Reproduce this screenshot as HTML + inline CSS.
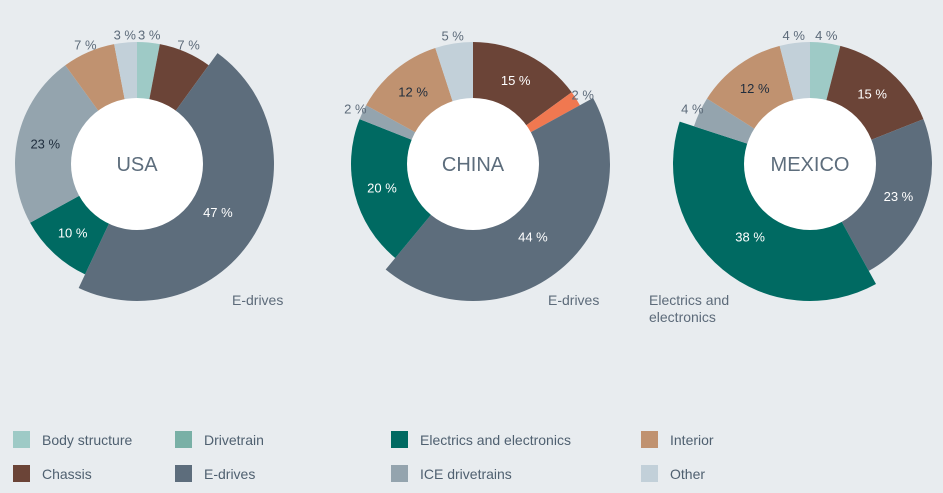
<!DOCTYPE html>
<html><head><meta charset="utf-8"><style>
html,body{margin:0;padding:0;background:#e8ecef;width:943px;height:493px;overflow:hidden;font-family:"Liberation Sans",sans-serif}
.leg{position:absolute;display:flex;align-items:center;font-size:14px;color:#4f6070}
.sw{width:17px;height:17px;margin-right:12px}
</style></head><body>
<svg id="chart" width="943" height="420" style="position:absolute;left:0;top:0"></svg>
<div id="legend"></div>
<script>
const categories=["Body structure","Chassis","Drivetrain","E-drives","Electrics and electronics","ICE drivetrains","Interior","Other"];
const colors={"Body structure":"#9ecac6","Chassis":"#6b4437","Drivetrain":"#f07850","E-drives":"#5d6d7c","Electrics and electronics":"#006a62","ICE drivetrains":"#94a4ae","Interior":"#c09270","Other":"#c2d0d9"};
const countries=["USA","CHINA","MEXICO"];
const usaValues=[3,7,0,47,10,23,7,3];
const chinaValues=[0,15,2,44,20,2,12,5];
const mexicoValues=[4,15,0,23,38,4,12,4];
const explodedSlice=["E-drives","E-drives","Electrics and electronics"];
const calloutLabels=["E-drives","E-drives","Electrics and\nelectronics"];
const seriesValues=[usaValues,chinaValues,mexicoValues];
const centers=[[137,164],[473,164],[810,164]];
const rIn=66,rOut=122,rExp=137;
const svg=document.getElementById('chart');
const NS="http://www.w3.org/2000/svg";
function pt(cx,cy,r,f){const a=f*2*Math.PI;return [cx+r*Math.sin(a),cy-r*Math.cos(a)];}
function arc(cx,cy,r0,r1,f0,f1){
  const [x0,y0]=pt(cx,cy,r1,f0),[x1,y1]=pt(cx,cy,r1,f1),[x2,y2]=pt(cx,cy,r0,f1),[x3,y3]=pt(cx,cy,r0,f0);
  const lg=(f1-f0)>0.5?1:0;
  return `M${x0},${y0}A${r1},${r1} 0 ${lg} 1 ${x1},${y1}L${x2},${y2}A${r0},${r0} 0 ${lg} 0 ${x3},${y3}Z`;
}
countries.forEach((c,ci)=>{
  const [cx,cy]=centers[ci];const vals=seriesValues[ci];
  const total=vals.reduce((a,b)=>a+b,0);
  let acc=0;
  const g=document.createElementNS(NS,'g');
  
  
  svg.appendChild(g);
  vals.forEach((v,i)=>{
    if(!v)return;
    const f0=acc/total,f1=(acc+v)/total;acc+=v;
    const cat=categories[i];
    const ro=cat===explodedSlice[ci]?rExp:rOut;
    const p=document.createElementNS(NS,'path');
    p.setAttribute('d',arc(cx,cy,0,ro,f0,f1));
    p.setAttribute('fill',colors[cat]);
    
    
    g.appendChild(p);
    const fm=(f0+f1)/2;const inside=v>=10;
    const [lx,ly]=pt(cx,cy,inside?94:130,fm);
    const t=document.createElementNS(NS,'text');
    t.setAttribute('x',lx);t.setAttribute('y',ly+5);
    t.setAttribute('text-anchor','middle');t.setAttribute('font-size','13');
    const light=(cat==="ICE drivetrains"||cat==="Interior");
    t.setAttribute('fill',inside?(light?'#1f2d3d':'#ffffff'):'#5d6b7a');
    
    
    t.textContent=v+' %';
    g.appendChild(t);
  });
  const ci2=document.createElementNS(NS,'circle');
  ci2.setAttribute('cx',cx);ci2.setAttribute('cy',cy);ci2.setAttribute('r',rIn);ci2.setAttribute('fill','#ffffff');
  
  
  g.appendChild(ci2);
  const ct=document.createElementNS(NS,'text');
  ct.setAttribute('x',cx);ct.setAttribute('y',cy+7);ct.setAttribute('text-anchor','middle');
  ct.setAttribute('font-size','20');ct.setAttribute('fill','#5d6d7c');
  
  
  ct.textContent=c;g.appendChild(ct);
});
const calloutPos=[[232,305],[548,305],[649,305]];
calloutLabels.forEach((s,i)=>{
  s.split('\n').forEach((line,j)=>{
    const t=document.createElementNS(NS,'text');
    t.setAttribute('x',calloutPos[i][0]);t.setAttribute('y',calloutPos[i][1]+j*17);
    t.setAttribute('font-size','14');t.setAttribute('fill','#5d6b7a');
    
    
    t.textContent=line;svg.appendChild(t);
  });
});
const legendItems=["Body structure","Drivetrain","Electrics and electronics","Interior","Chassis","E-drives","ICE drivetrains","Other"];
const legendColors=["#9ecac6","#79b0a6","#006a62","#c09270","#6b4437","#5d6d7c","#94a4ae","#c2d0d9"];
const colX=[13,175,391,641],rowY=[431,465];
const L=document.getElementById('legend');
legendItems.forEach((n,i)=>{
  const d=document.createElement('div');d.className='leg';
  d.style.left=colX[i%4]+'px';d.style.top=rowY[Math.floor(i/4)]+'px';
  
  
  d.innerHTML='<div class="sw" style="background:'+legendColors[i]+'"></div><span>'+n+'</span>';
  L.appendChild(d);
});
</script>
</body></html>
